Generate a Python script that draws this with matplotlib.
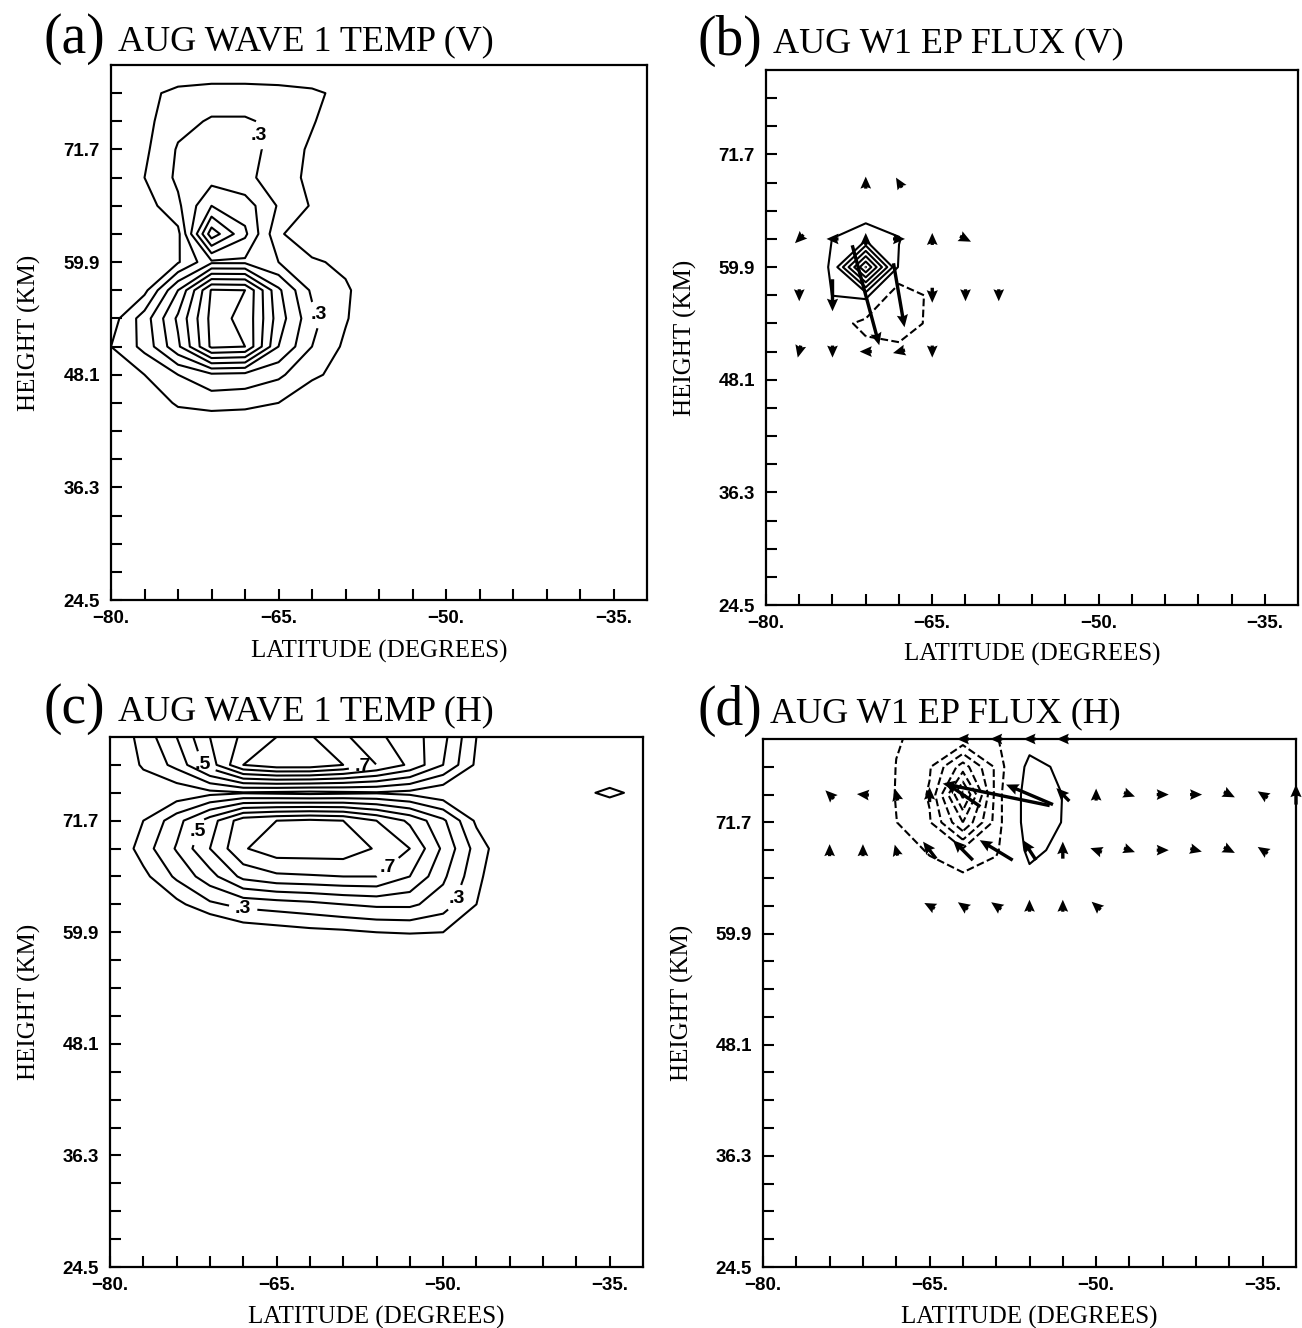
import numpy as np
import matplotlib
matplotlib.use("Agg")
import matplotlib.pyplot as plt

# ---------------- grid (latitude columns, height rows) ----------------
LATS = [-80, -77, -74, -71, -68, -65, -62, -59, -56, -53, -50, -47, -44, -41, -38, -35, -32]
HEIGHTS = [24.5, 27.45, 30.4, 33.35, 36.3, 39.25, 42.2, 45.15, 48.1, 51.05, 54.0,
           56.95, 59.9, 62.85, 65.8, 68.75, 71.7, 74.65, 77.6, 80.55]

XTICK_VALUES = [-80, -65, -50, -35]
XTICK_LABELS = ["\u221280.", "\u221265.", "\u221250.", "\u221235."]
YTICK_VALUES = [24.5, 36.3, 48.1, 59.9, 71.7]
YTICK_LABELS = ["24.5", "36.3", "48.1", "59.9", "71.7"]

# ---------------- (a) wave-1 temperature, vertical (rows from 80.55 km downward) ----------------
TEMP_V_ROWS = [
    [0.05, 0.10, 0.10, 0.10, 0.10, 0.10, 0.10, 0.08, 0.03, 0, 0, 0, 0, 0, 0, 0, 0],   # 80.55
    [0.08, 0.17, 0.23, 0.25, 0.25, 0.24, 0.22, 0.17, 0.05, 0, 0, 0, 0, 0, 0, 0, 0],   # 77.6
    [0.05, 0.17, 0.27, 0.31, 0.31, 0.28, 0.21, 0.12, 0.03, 0, 0, 0, 0, 0, 0, 0, 0],   # 74.65
    [0.00, 0.18, 0.31, 0.34, 0.33, 0.27, 0.18, 0.08, 0.00, 0, 0, 0, 0, 0, 0, 0, 0],   # 71.7
    [0.00, 0.20, 0.32, 0.36, 0.32, 0.26, 0.17, 0.08, 0.00, 0, 0, 0, 0, 0, 0, 0, 0],   # 68.75
    [0.00, 0.15, 0.28, 0.50, 0.45, 0.29, 0.19, 0.08, 0.00, 0, 0, 0, 0, 0, 0, 0, 0],   # 65.8
    [0.00, 0.08, 0.17, 0.76, 0.52, 0.22, 0.10, 0.03, 0.00, 0, 0, 0, 0, 0, 0, 0, 0],   # 62.85
    [0.00, 0.10, 0.19, 0.38, 0.38, 0.30, 0.22, 0.17, 0.03, 0, 0, 0, 0, 0, 0, 0, 0],   # 59.9
    [0.00, 0.17, 0.50, 0.91, 0.90, 0.52, 0.28, 0.22, 0.10, 0, 0, 0, 0, 0, 0, 0, 0],   # 56.95
    [0.15, 0.35, 0.62, 0.93, 0.88, 0.55, 0.33, 0.21, 0.10, 0, 0, 0, 0, 0, 0, 0, 0],   # 54.0
    [0.20, 0.33, 0.58, 0.92, 0.90, 0.50, 0.30, 0.18, 0.05, 0, 0, 0, 0, 0, 0, 0, 0],   # 51.05
    [0.10, 0.20, 0.30, 0.38, 0.37, 0.32, 0.22, 0.16, 0.00, 0, 0, 0, 0, 0, 0, 0, 0],   # 48.1
    [0.00, 0.10, 0.22, 0.24, 0.23, 0.20, 0.12, 0.05, 0.00, 0, 0, 0, 0, 0, 0, 0, 0],   # 45.15
    [0.00, 0.03, 0.08, 0.10, 0.10, 0.07, 0.03, 0.00, 0.00, 0, 0, 0, 0, 0, 0, 0, 0],   # 42.2
]
TEMP_LEVELS = [0.2, 0.3, 0.4, 0.5, 0.6, 0.7, 0.8, 0.9]

# ---------------- (c) wave-1 temperature, horizontal ----------------
TEMP_H_ROWS = [
    [0.10, 0.24, 0.40, 0.60, 0.72, 0.80, 0.81, 0.72, 0.62, 0.55, 0.43, 0.20, 0.05, 0, 0, 0.00, 0.00],  # 80.55
    [0.05, 0.22, 0.33, 0.55, 0.80, 0.86, 0.86, 0.80, 0.70, 0.58, 0.40, 0.18, 0.03, 0, 0, 0.06, 0.00],  # 77.6
    [0.00, 0.10, 0.13, 0.17, 0.19, 0.18, 0.17, 0.18, 0.19, 0.17, 0.12, 0.05, 0.00, 0, 0.16, 0.23, 0.16],  # 74.65
    [0.02, 0.20, 0.36, 0.55, 0.76, 0.80, 0.82, 0.80, 0.70, 0.58, 0.42, 0.18, 0.05, 0, 0, 0.05, 0.00],  # 71.7
    [0.08, 0.25, 0.41, 0.60, 0.79, 0.86, 0.86, 0.86, 0.79, 0.70, 0.48, 0.26, 0.10, 0, 0, 0.00, 0.00],  # 68.75
    [0.00, 0.17, 0.32, 0.46, 0.63, 0.68, 0.69, 0.70, 0.70, 0.60, 0.42, 0.23, 0.08, 0, 0, 0.00, 0.00],  # 65.8
    [0.00, 0.05, 0.17, 0.28, 0.33, 0.35, 0.37, 0.40, 0.42, 0.42, 0.35, 0.20, 0.05, 0, 0, 0.00, 0.00],  # 62.85
    [0.00, 0.00, 0.02, 0.05, 0.13, 0.15, 0.17, 0.18, 0.20, 0.21, 0.20, 0.08, 0.00, 0, 0, 0.00, 0.00],  # 59.9
]

# ---------------- (b) EP-flux divergence, vertical (rows from 68.75 km downward) ----------------
EP_V_ROWS = [
    [0, 0, 0.00, 0.00, 0.00, 0.0, 0, 0, 0, 0, 0, 0, 0, 0, 0, 0, 0],    # 68.75
    [0, 0, 0.30, 0.40, 0.40, 0.0, 0, 0, 0, 0, 0, 0, 0, 0, 0, 0, 0],    # 65.8
    [0, 0, 1.02, 1.75, 1.05, 0.0, 0, 0, 0, 0, 0, 0, 0, 0, 0, 0, 0],    # 62.85
    [0, 0, 1.15, 7.05, 0.80, 0.0, 0, 0, 0, 0, 0, 0, 0, 0, 0, 0, 0],    # 59.9
    [0, 0, 1.02, 1.40, -2.20, -0.6, 0, 0, 0, 0, 0, 0, 0, 0, 0, 0, 0],  # 56.95
    [0, 0, -0.20, -1.50, -2.00, -0.6, 0, 0, 0, 0, 0, 0, 0, 0, 0, 0, 0],  # 54.0
    [0, 0, 0.00, -0.40, -0.50, -0.2, 0, 0, 0, 0, 0, 0, 0, 0, 0, 0, 0],  # 51.05
]
EP_V_LEVELS = [-1, 1, 2, 3, 4, 5, 6, 7]

# ---------------- (d) EP-flux divergence, horizontal (rows from 80.55 km downward) ----------------
EP_H_ROWS = [
    [0, 0, 0, 0, -0.95, -1.2, -1.3, -1.1, 0.3, 0.10, 0, 0, 0, 0, 0, 0, 0],   # 80.55
    [0, 0, 0, 0, -1.02, -1.9, -4.5, -1.8, 1.5, 0.70, 0, 0, 0, 0, 0, 0, 0],   # 77.6
    [0, 0, 0, 0, -1.05, -2.1, -7.3, -1.6, 1.9, 0.98, 0, 0, 0, 0, 0, 0, 0],   # 74.65
    [0, 0, 0, 0, -0.98, -1.9, -5.0, -1.6, 1.9, 0.95, 0, 0, 0, 0, 0, 0, 0],   # 71.7
    [0, 0, 0, 0, -0.50, -1.1, -1.8, -1.2, 1.4, 0.60, 0, 0, 0, 0, 0, 0, 0],   # 68.75
    [0, 0, 0, 0, -0.20, -0.6, -0.8, -0.3, 0.6, 0.20, 0, 0, 0, 0, 0, 0, 0],   # 65.8
]
EP_H_LEVELS = [-7, -6, -5, -4, -3, -2, -1, 1]

# ---------------- EP-flux vectors (b) ----------------
B_VEC_LAT = [-71, -68,
             -77, -74, -71, -68, -65, -62,
             -77, -74, -71, -68, -65, -62, -59,
             -77, -74, -71, -68, -65]
B_VEC_HGT = [68.75, 68.75,
             62.85, 62.85, 62.85, 62.85, 62.85, 62.85,
             56.95, 56.95, 56.95, 56.95, 56.95, 56.95, 56.95,
             51.05, 51.05, 51.05, 51.05, 51.05]
B_VEC_U = [0.00, -0.06,
           -0.085, -0.12, 0.00, 0.12, 0.00, 0.11,
           0.00, 0.00, 0.27, 0.11, 0.00, 0.00, 0.00,
           -0.03, 0.00, -0.12, -0.12, 0.00]
B_VEC_V = [0.12, 0.10,
           -0.085, 0.00, 0.12, 0.00, 0.12, -0.055,
           -0.12, -0.32, -1.00, -0.64, -0.15, -0.12, -0.12,
           -0.12, -0.12, 0.00, -0.03, -0.12]

# ---------------- EP-flux vectors (d) ----------------
D_VEC_LAT = [-62, -59, -56, -53,
             -74, -71, -68, -65, -62, -59, -56, -53, -50, -47, -44, -41, -38, -35, -32,
             -74, -71, -68, -65, -62, -59, -56, -53, -50, -47, -44, -41, -38, -35,
             -65, -62, -59, -56, -53, -50]
D_VEC_HGT = [80.55] * 4 + [74.65] * 15 + [68.75] * 14 + [62.85] * 6
D_VEC_U = [-0.12, -0.12, -0.12, -0.12,
           -0.085, -0.12, -0.03, 0.00, -0.35, -1.07, -0.47, -0.13, 0.00, 0.11, 0.12, 0.12, 0.11, -0.10, 0.00,
           0.00, 0.00, -0.03, -0.13, -0.20, -0.33, -0.13, 0.00, -0.115, 0.11, 0.12, 0.115, 0.11, -0.10,
           -0.105, -0.10, -0.10, 0.00, 0.00, -0.09]
D_VEC_V = [0.00, 0.00, 0.00, 0.00,
           0.085, 0.01, 0.12, 0.15, 0.24, 0.22, 0.20, 0.13, 0.12, -0.04, 0.00, 0.00, -0.055, 0.065, 0.20,
           0.12, 0.12, 0.11, 0.17, 0.20, 0.20, 0.20, 0.17, 0.04, -0.04, 0.00, -0.03, -0.055, 0.065,
           0.055, 0.07, 0.07, 0.12, 0.12, 0.08]


def full_grid(rows):
    g = np.zeros((len(HEIGHTS), len(LATS)))
    top = len(HEIGHTS) - 1
    for i, r in enumerate(rows):
        g[top - i, :] = r
    return g


def fmt_level(v):
    s = f"{v:.1f}"
    return s[1:] if s.startswith("0") else s


SERIF = "Liberation Serif"
SANS = "Liberation Sans"

fig = plt.figure(figsize=(13.02, 13.28), dpi=100)
W, H = 1302.0, 1328.0


def make_axes(left, top, right, bottom):
    return fig.add_axes([left / W, 1 - bottom / H, (right - left) / W, (bottom - top) / H])


def style_axes(ax, xlab_y, ylab_x):
    ax.set_xlim(-80, -32)
    ax.set_ylim(24.5, 80.55)
    ax.set_xticks(XTICK_VALUES, labels=XTICK_LABELS, fontsize=13.5, fontweight="bold", family=SANS)
    ax.set_yticks(YTICK_VALUES, labels=YTICK_LABELS, fontsize=13.5, fontweight="bold", family=SANS)
    ax.set_xticks(LATS[:-1], minor=True)
    ax.set_yticks(HEIGHTS[:-1], minor=True)
    ax.tick_params(which="both", direction="in", length=8, width=1.5, top=False, right=False)
    ax.tick_params(axis="x", which="both", pad=7)
    ax.tick_params(axis="y", which="both", pad=8)
    for s in ax.spines.values():
        s.set_linewidth(1.6)
    ax.set_xlabel("LATITUDE (DEGREES)", fontsize=18, family=SERIF)
    ax.set_ylabel("HEIGHT (KM)", fontsize=18, family=SERIF)
    ax.xaxis.set_label_coords(0.5, xlab_y)
    ax.yaxis.set_label_coords(ylab_x, 0.5)


def add_title(x_letter, x_text, y_base, letter, text):
    fig.text(x_letter / W, 1 - (y_base + 3) / H, letter, fontsize=40, family=SERIF, va="baseline")
    fig.text(x_text / W, 1 - y_base / H, text, fontsize=26, family=SERIF, va="baseline")


LAT2D, HGT2D = np.meshgrid(LATS, HEIGHTS)


def labelled_contours(ax, field, levels, labelled):
    plain = [l for l in levels if l not in labelled]
    ax.contour(LAT2D, HGT2D, field, levels=plain, colors="black", linewidths=1.5)
    for lev, spots in labelled.items():
        cs = ax.contour(LAT2D, HGT2D, field, levels=[lev], colors="black", linewidths=1.5)
        texts = ax.clabel(cs, manual=spots, fmt=fmt_level, inline=True, fontsize=14)
        for t in texts:
            t.set_fontweight("bold")
            t.set_family(SANS)
            t.set_rotation(0)


def draw_vectors(ax, lat, hgt, u, v):
    ax.quiver(lat, hgt, u, v, pivot="middle", units="dots", width=3.4,
              headwidth=3.3, headlength=3.7, headaxislength=3.3,
              scale_units="dots", scale=0.01, color="black", clip_on=False, zorder=5)


# (a)
axa = make_axes(111, 65, 647, 600)
style_axes(axa, -0.074, -0.13)
labelled_contours(axa, full_grid(TEMP_V_ROWS), TEMP_LEVELS,
                  {0.3: [(-67.6, 73.0), (-61.9, 54.1)]})
add_title(44, 118, 50, "(a)", "AUG WAVE 1 TEMP (V)")

# (b)
axb = make_axes(766, 70, 1298, 605)
style_axes(axb, -0.07, -0.13)
axb.contour(LAT2D, HGT2D, full_grid([[0] * 17] * 4 + EP_V_ROWS), levels=EP_V_LEVELS,
            colors="black", linewidths=1.5,
            linestyles=["--" if l < 0 else "-" for l in EP_V_LEVELS])
draw_vectors(axb, B_VEC_LAT, B_VEC_HGT, B_VEC_U, B_VEC_V)
add_title(697, 773, 52, "(b)", "AUG W1 EP FLUX (V)")

# (c)
axc = make_axes(110, 737, 643, 1267)
style_axes(axc, -0.074, -0.13)
labelled_contours(axc, full_grid(TEMP_H_ROWS), TEMP_LEVELS,
                  {0.5: [(-72.2, 77.0), (-71.9, 70.5)],
                   0.7: [(-57.2, 77.3), (-55.0, 66.8)],
                   0.3: [(-68.0, 62.5), (-49.1, 63.6)]})
add_title(44, 118, 720, "(c)", "AUG WAVE 1 TEMP (H)")

# (d)
axd = make_axes(763, 739, 1296, 1267)
style_axes(axd, -0.074, -0.13)
axd.contour(LAT2D, HGT2D, full_grid(EP_H_ROWS), levels=EP_H_LEVELS,
            colors="black", linewidths=1.5,
            linestyles=["--" if l < 0 else "-" for l in EP_H_LEVELS])
draw_vectors(axd, D_VEC_LAT, D_VEC_HGT, D_VEC_U, D_VEC_V)
add_title(697, 770, 722, "(d)", "AUG W1 EP FLUX (H)")

fig.savefig("out.png", dpi=100)
